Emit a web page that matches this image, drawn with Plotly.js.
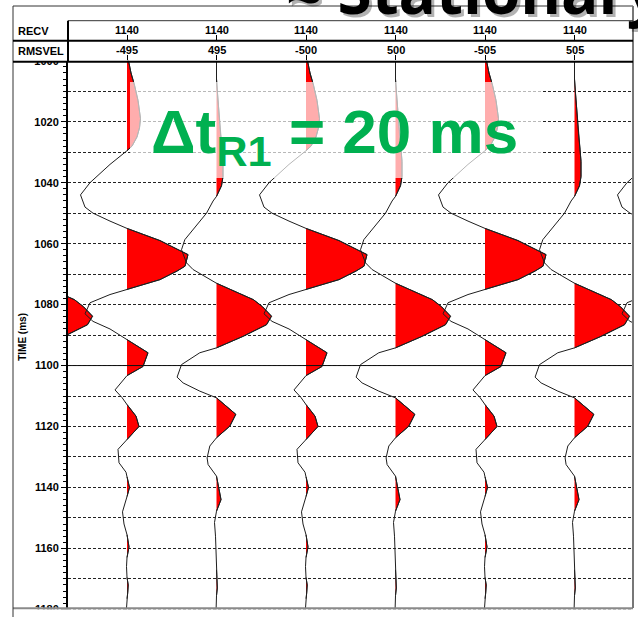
<!DOCTYPE html>
<html><head><meta charset="utf-8">
<script src="https://cdn.plot.ly/plotly-3.0.1.min.js"></script>
<style>html,body{margin:0;padding:0;background:#fff;}#chart{width:638px;height:618px;}</style>
</head><body><div id="chart"></div>
<script>
// ---- data ----
const recv   = [1140, 1140, 1140, 1140, 1140, 1140];
const rmsvel = [-495, 495, -500, 500, -505, 505];
const traceSlots = [0, 1, 2, 3, 4, 5, 6, 7];           // 0 and 7 are clipped neighbours
const traceKind  = ['even','odd','even','odd','even','odd','even','odd'];
const oddTime = [1000,1004,1008,1013,1019,1022,1025,1028,1029.5,1034,1040,1044,1048,1050,1052.6,1055,1059,1060.5,1062.6,1063.6,1067.4,1069,1071.8,1075,1076.7,1079.4,1083,1085.5,1088,1091.5,1095.8,1100.3,1103.3,1108,1110.5,1112.8,1116.6,1120,1124.3,1127.5,1131.9,1135,1136.5,1140,1143,1148,1152,1155.5,1159.5,1163,1166,1169.5,1172,1174.5,1176.5,1181];
const oddAmp  = [1.5,4,7.5,11,13.5,12.5,10,5,0,-17,-37,-46.5,-42,-34,-17,0,33,42,54,61,58,50,33,0,-17,-37,-42,-34,-17,0,21,16,0,-12,-5,0,9,12,0,-9,-8,-1,0,2.5,0,-4.5,-3,0,2,0,-0.5,0,1.2,0.8,0,-0.8];
const evenTime = [1000,1006,1010,1018,1024,1029,1033,1038,1041,1044.5,1046,1050,1055.4,1058.7,1062,1066.3,1068.5,1071.2,1073,1078.4,1080.7,1083.8,1086.6,1090.4,1094.2,1095.8,1099.7,1103.8,1105.7,1108.4,1110.6,1116,1119.9,1123.7,1126.4,1130.3,1132.5,1136.3,1140,1144,1147.8,1151.5,1156,1162,1167,1170,1173,1175.5,1181];
const evenAmp  = [0,0,0.8,2.7,4,5.5,6.5,6.5,5,0,-3.4,-10,-23,-31.7,-35,-30,-23.4,-10,0,37,46,55,50,26.7,0,-16.7,-35,-39.4,-33.4,-16.7,0,19.3,13.3,0,-6.7,-9.4,-8.4,0,2.5,4.5,0,-2,-1,-0.5,0,0.6,0.8,0,-0.5];
const timeTicks = [1000,1020,1040,1060,1080,1100,1120,1140,1160,1180];
const refTime = 1100;
const timeRange = [1000, 1181.2];
const annoText = 'Δt<sub>R1</sub> = 20 ms';
const headline = '≈ Stationary';

// ---- layout helpers (pixel -> paper) ----
const W = 638, H = 618, M = {l:13, r:5, t:6, b:5};
const PW = W - M.l - M.r, PH = H - M.t - M.b;
const px = v => (v - M.l) / PW;
const py = v => (H - M.b - v) / PH;
const xDomStart = px(68), yDomTop = py(60.8);
const gain = 1 / 89.5;
const xRange = [1 - 59 * gain, 1 + 506 * gain];

function lobes(pos, T, A) {
  const xs = [], ys = [];
  let inL = false;
  for (let i = 0; i < T.length; i++) {
    const a = A[i], t = T[i];
    if (i === 0) { if (a > 0) { xs.push(pos); ys.push(t); inL = true; } }
    else {
      const a0 = A[i-1], t0 = T[i-1];
      if ((a0 > 0) !== (a > 0)) {
        const tc = t0 + (t - t0) * (0 - a0) / (a - a0);
        if (a > 0) { xs.push(pos); ys.push(tc); inL = true; }
        else if (inL) { xs.push(pos); ys.push(tc); xs.push(null); ys.push(null); inL = false; }
      }
    }
    if (a > 0) { xs.push(pos + a * gain); ys.push(t); }
  }
  if (inL) { xs.push(pos); ys.push(T[T.length-1]); }
  return {xs, ys};
}

const data = [];
traceSlots.forEach((pos, i) => {
  const T = traceKind[i] === 'odd' ? oddTime : evenTime;
  const A = traceKind[i] === 'odd' ? oddAmp : evenAmp;
  const f = lobes(pos, T, A);
  data.push({x: f.xs, y: f.ys, type: 'scatter', mode: 'lines', fill: 'toself', fillcolor: '#ff0000',
             line: {color: '#222', width: 1}, connectgaps: false, hoverinfo: 'skip', showlegend: false});
  data.push({x: A.map(a => pos + a * gain), y: T, type: 'scatter', mode: 'lines',
             line: {color: '#1e1e1e', width: 1}, hoverinfo: 'skip', showlegend: false});
});
data.push({x: [1], y: [1000], xaxis: 'x2', yaxis: 'y2', mode: 'markers', marker: {opacity: 0}, hoverinfo: 'skip', showlegend: false});

const FAM = 'Liberation Sans, Arial, sans-serif';
const bold11 = {family: FAM, size: 11, color: '#000'};
const slots = recv.map((_, i) => i + 1);
const B = s => '<b>' + s + '</b>';

const shapes = [
  {type:'line', xref:'paper', yref:'y', x0:xDomStart, x1:1, y0:refTime, y1:refTime, line:{color:'#111', width:1}, layer:'above'},
  {type:'rect', xref:'paper', yref:'paper', x0:px(130), x1:px(543), y0:py(178), y1:py(82), fillcolor:'rgba(255,255,255,0.68)', line:{width:0}, layer:'above'},
  {type:'rect', xref:'paper', yref:'paper', x0:px(14), x1:px(66.5), y0:py(61.5), y1:py(48), fillcolor:'#fff', line:{width:0}, layer:'above'},
  {type:'rect', xref:'paper', yref:'paper', x0:px(14), x1:px(640), y0:py(620), y1:py(609.3), fillcolor:'#fff', line:{width:0}, layer:'above'},
  {type:'line', xref:'paper', yref:'paper', x0:px(13), x1:px(633), y0:py(608.3), y1:py(608.3), line:{color:'#8a8a8a', width:2}, layer:'above'},
  {type:'line', xref:'paper', yref:'paper', x0:px(13), x1:px(13), y0:py(6), y1:py(617), line:{color:'#333', width:1}, layer:'above'},
  {type:'line', xref:'paper', yref:'paper', x0:px(13), x1:px(633), y0:py(6), y1:py(6), line:{color:'#333', width:1}, layer:'above'},
  {type:'line', xref:'paper', yref:'paper', x0:px(633), x1:px(633), y0:py(6), y1:py(608), line:{color:'#777', width:2}, layer:'above'},
  {type:'line', xref:'paper', yref:'paper', x0:px(68), x1:px(633), y0:py(20.7), y1:py(20.7), line:{color:'#333', width:1}, layer:'above'},
  {type:'line', xref:'paper', yref:'paper', x0:px(13), x1:px(633), y0:py(40.7), y1:py(40.7), line:{color:'#000', width:2}, layer:'above'},
  {type:'line', xref:'paper', yref:'paper', x0:px(13), x1:px(633), y0:py(61.7), y1:py(61.7), line:{color:'#000', width:2}, layer:'above'},
  {type:'line', xref:'paper', yref:'paper', x0:px(68), x1:px(68), y0:py(20.7), y1:py(61.7), line:{color:'#000', width:2}, layer:'above'}
];

const annotations = [
  {xref:'paper', yref:'paper', x:px(16), y:py(31), xanchor:'left', yanchor:'middle', text:B('RECV'), showarrow:false, font:bold11},
  {xref:'paper', yref:'paper', x:px(16), y:py(51), xanchor:'left', yanchor:'middle', text:B('RMSVEL'), showarrow:false, font:bold11}
];
slots.forEach((s, i) => {
  annotations.push({xref:'x', yref:'paper', x:s, y:py(30), xanchor:'center', yanchor:'middle', text:B(recv[i]), showarrow:false, font:bold11});
  annotations.push({xref:'x', yref:'paper', x:s, y:py(50), xanchor:'center', yanchor:'middle', text:B(rmsvel[i]), showarrow:false, font:bold11});
});
annotations.push(
  {xref:'paper', yref:'paper', x:px(149), y:py(136), xanchor:'left', yanchor:'middle', text:B(annoText), showarrow:false,
   font:{family:FAM, size:62, color:'#00b050'}},
  {xref:'paper', yref:'paper', x:px(287), y:py(37), xanchor:'left', yanchor:'bottom', text:B(headline), showarrow:false,
   font:{family:'Open Sans, sans-serif', size:62, color:'rgba(0,0,0,0.3)'}},
  {xref:'paper', yref:'paper', x:px(284), y:py(34), xanchor:'left', yanchor:'bottom', text:B(headline), showarrow:false,
   font:{family:'Open Sans, sans-serif', size:62, color:'#000'}}
);

const layout = {
  width: W, height: H, margin: M, paper_bgcolor: '#fff', plot_bgcolor: '#fff', showlegend: false,
  xaxis: {domain:[xDomStart, 1], range: xRange, side:'top', tickmode:'array', tickvals: slots,
          showticklabels:false, ticks:'outside', ticklen:5, tickwidth:1, tickcolor:'#000',
          showgrid:false, zeroline:false, showline:false, fixedrange:true},
  xaxis2: {overlaying:'x', anchor:'free', position: py(40.7), range: xRange, side:'top', tickmode:'array', tickvals: slots,
          showticklabels:false, ticks:'outside', ticklen:6, tickwidth:1, tickcolor:'#000',
          showgrid:false, zeroline:false, showline:false},
  yaxis: {domain:[0, yDomTop], range:[timeRange[1], timeRange[0]], tickmode:'array', tickvals: timeTicks,
          ticktext: timeTicks.map(B), ticks:'outside', ticklen:5, tickwidth:1, tickcolor:'#000', tickfont: bold11,
          minor:{tickmode:'linear', tick0:1000, dtick:2, ticks:'outside', ticklen:3, tickwidth:1, tickcolor:'#000', showgrid:false},
          showgrid:false, zeroline:false, showline:true, linewidth:2, linecolor:'#000',
          title:{text:B('TIME (ms)'), font:{family:FAM, size:10, color:'#000'}, standoff:6}},
  yaxis2: {overlaying:'y', anchor:'x', range:[timeRange[1], timeRange[0]], tickmode:'linear', tick0:1000, dtick:10,
          showgrid:true, gridcolor:'#222', gridwidth:1, griddash:'3px,2px', showticklabels:false, ticks:'',
          zeroline:false, showline:false},
  shapes, annotations
};
Plotly.newPlot('chart', data, layout, {staticPlot:true});
</script></body></html>
